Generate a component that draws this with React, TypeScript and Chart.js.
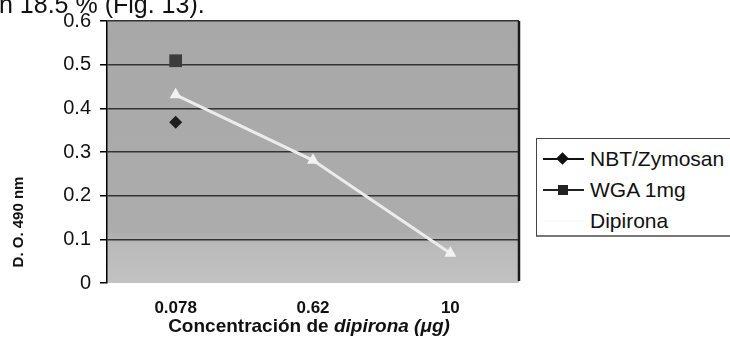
import React, { useEffect, useRef } from "react";
import { Chart, registerables } from "chart.js";

Chart.register(...registerables);

const categories = ["0.078", "0.62", "10"];
const nbtZymosan = [0.368, null, null];
const wga1mg = [0.509, null, null];
const dipirona = [0.431, 0.281, 0.068];
const yMin = 0;
const yMax = 0.6;
const yStep = 0.1;

const FONT = "'Liberation Sans', Arial, sans-serif";

const plotDecor = {
  id: "plotDecor",
  beforeDraw(chart: any) {
    const { ctx, chartArea } = chart;
    const { left, top, right, bottom } = chartArea;
    ctx.save();
    const g = ctx.createLinearGradient(0, top, 0, bottom);
    g.addColorStop(0, "#a8a8a8");
    g.addColorStop(0.8, "#acacac");
    g.addColorStop(0.86, "#bababa");
    g.addColorStop(1, "#c2c2c2");
    ctx.fillStyle = g;
    ctx.fillRect(left, top, right - left, bottom - top);
    ctx.restore();
  },
  afterDraw(chart: any) {
    const { ctx, chartArea } = chart;
    const { top, right, bottom } = chartArea;
    ctx.save();
    ctx.strokeStyle = "#1a1a1a";
    ctx.lineWidth = 2.5;
    ctx.beginPath();
    ctx.moveTo(right, top);
    ctx.lineTo(right, bottom - 2);
    ctx.stroke();
    ctx.restore();
  },
};

export default function App() {
  const ref = useRef<HTMLCanvasElement | null>(null);

  useEffect(() => {
    document.body.style.margin = "0";
    document.body.style.overflow = "hidden";
    const canvas = ref.current;
    if (!canvas) return;
    const chart = new Chart(canvas, {
      type: "line",
      data: {
        labels: categories,
        datasets: [
          {
            label: "Dipirona",
            data: dipirona,
            borderColor: "#ececec",
            backgroundColor: "#f4f4f4",
            borderWidth: 3,
            pointStyle: "triangle",
            pointRadius: 7,
            pointBorderWidth: 0,
            pointBackgroundColor: "#f2f2f2",
            tension: 0,
          },
          {
            label: "NBT/Zymosan",
            data: nbtZymosan,
            borderColor: "#111",
            backgroundColor: "#1a1a1a",
            borderWidth: 1.5,
            pointStyle: "rectRot",
            pointRadius: 6.5,
            pointBorderWidth: 0,
            pointBackgroundColor: "#1e1e1e",
            spanGaps: false,
          },
          {
            label: "WGA 1mg",
            data: wga1mg,
            borderColor: "#333",
            backgroundColor: "#3a3a3a",
            borderWidth: 1.5,
            pointStyle: "rect",
            pointRadius: 9,
            pointBorderWidth: 0,
            pointBackgroundColor: "#3c3c3c",
            spanGaps: false,
          },
        ],
      },
      options: {
        responsive: false,
        animation: false,
        devicePixelRatio: 1,
        layout: { padding: { left: 0, top: 17, right: 211, bottom: 0 } },
        plugins: {
          legend: { display: false },
          tooltip: { enabled: false },
          title: { display: false },
        },
        scales: {
          x: {
            type: "category",
            offset: true,
            grid: { display: false, drawTicks: false },
            border: { display: false },
            ticks: {
              color: "#111",
              padding: 15,
              font: { family: FONT, size: 17, weight: "bold" },
            },
            afterFit(s: any) {
              s.height = 342 - 283;
            },
          },
          y: {
            min: yMin,
            max: yMax,
            grid: {
              color: (c: any) => (c.tick && c.tick.value === 0 ? "rgba(0,0,0,0)" : "#333333"),
              lineWidth: 1.5,
              tickLength: 7,
              tickColor: "#000",
            },
            border: { display: true, color: "#000", width: 1.5 },
            ticks: {
              stepSize: yStep,
              padding: 9,
              color: "#111",
              font: { family: FONT, size: 20 },
              callback: (v: any) => (Number(v) === 0 ? "0" : Number(v).toFixed(1)),
            },
            afterFit(s: any) {
              s.width = 107;
            },
          },
        },
      },
      plugins: [plotDecor],
    } as any);
    return () => chart.destroy();
  }, []);

  const legendRow = (top: number, marker: React.ReactNode, text: string, lineColor: string) => (
    <div style={{ position: "absolute", left: 0, top, height: 30, width: 240 }}>
      <div
        style={{
          position: "absolute",
          left: 6,
          top: 14,
          width: 41,
          height: 2,
          background: lineColor,
        }}
      />
      {marker}
      <div
        style={{
          position: "absolute",
          left: 53,
          top: 0,
          lineHeight: "30px",
          fontFamily: FONT,
          fontSize: 21,
          color: "#111",
          whiteSpace: "nowrap",
        }}
      >
        {text}
      </div>
    </div>
  );

  return (
    <div style={{ position: "fixed", left: 0, top: 0, width: 730, height: 342, overflow: "hidden", background: "#fff" }}>
      <canvas ref={ref} width={730} height={342} style={{ position: "absolute", left: 0, top: 0, width: 730, height: 342 }} />
      <div
        style={{
          position: "absolute",
          left: -1,
          top: -10,
          fontFamily: FONT,
          fontSize: 25,
          lineHeight: "28px",
          color: "#111",
          whiteSpace: "nowrap",
        }}
      >
        n 18.5 % (Fig. 13).
      </div>
      <div
        style={{
          position: "absolute",
          left: 309 - 200,
          width: 400,
          top: 315,
          textAlign: "center",
          fontFamily: FONT,
          fontSize: 19,
          fontWeight: "bold",
          lineHeight: "22px",
          color: "#111",
          whiteSpace: "nowrap",
        }}
      >
        Concentración de <i>dipirona (μg)</i>
      </div>
      <div
        style={{
          position: "absolute",
          left: 17.5 - 60,
          top: 222 - 10,
          width: 120,
          height: 20,
          lineHeight: "20px",
          textAlign: "center",
          transform: "rotate(-90deg)",
          fontFamily: FONT,
          fontSize: 15,
          fontWeight: "bold",
          color: "#111",
          whiteSpace: "nowrap",
        }}
      >
        D. O. 490 nm
      </div>
      <div
        style={{
          position: "absolute",
          left: 536,
          top: 138,
          width: 260,
          height: 96,
          borderTop: "1px solid #444",
          borderLeft: "1px solid #444",
          borderRight: "none",
          borderBottom: "2px solid #777",
          background: "#fff",
        }}
      >
        {legendRow(
          5,
          <div
            style={{
              position: "absolute",
              left: 21,
              top: 10,
              width: 9,
              height: 9,
              background: "#111",
              transform: "rotate(45deg)",
            }}
          />,
          "NBT/Zymosan",
          "#111"
        )}
        {legendRow(
          36,
          <div
            style={{
              position: "absolute",
              left: 21,
              top: 10,
              width: 10,
              height: 10,
              background: "#222",
            }}
          />,
          "WGA 1mg",
          "#222"
        )}
        {legendRow(67, null, "Dipirona", "#fafafa")}
      </div>
    </div>
  );
}
